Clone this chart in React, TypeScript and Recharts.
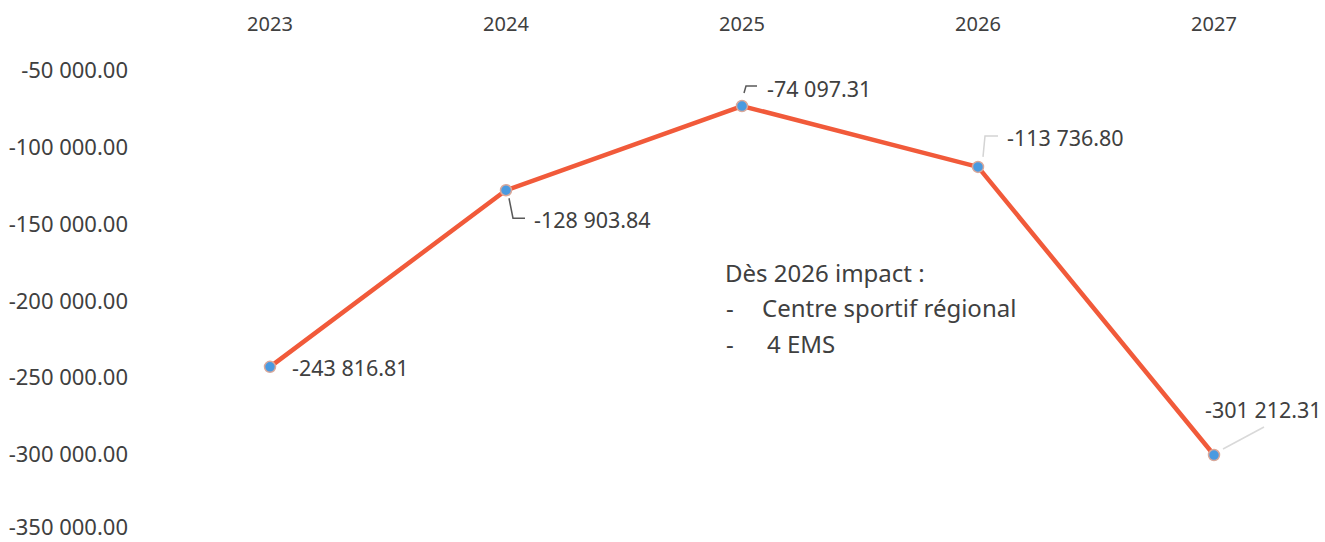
import React from "react";
import { LineChart, Line, XAxis, YAxis, LabelList } from "recharts";

const years = ["2023", "2024", "2025", "2026", "2027"];
const values = [-243816.81, -128903.84, -74097.31, -113736.8, -301212.31];
const yTicks = [-350000, -300000, -250000, -200000, -150000, -100000, -50000];
const noteLines = ["Dès 2026 impact :", "Centre sportif régional", "4 EMS"];

const data = years.map((y, i) => ({ year: y, value: values[i] }));

const FONT = "'Noto Sans', 'Open Sans', sans-serif";
const TEXT = "#404040";

function fmt(v: number): string {
  const neg = v < 0;
  const s = Math.abs(v).toFixed(2);
  const [ip, dp] = s.split(".");
  const grouped = ip.replace(/\B(?=(\d{3})+(?!\d))/g, " ");
  return (neg ? "-" : "") + grouped + "." + dp;
}

// label placement relative to the point: leader polyline and text anchor
const labelLayout = [
  { leader: [] as number[][], tx: 22, ty: 1, color: "#595959" },
  { leader: [[3, 8], [7, 28], [19, 28]], tx: 28, ty: 29, color: "#595959" },
  { leader: [[2, -13], [4, -20], [15, -20]], tx: 25, ty: -18, color: "#595959" },
  { leader: [[5, -10], [7, -31], [20, -31]], tx: 29, ty: -29, color: "#d4d4d4" },
  { leader: [[9, -6], [50, -28]], tx: -9, ty: -46, color: "#d9d9d9" },
];

const DataLabel = (props: any) => {
  const { x, y, value, index } = props;
  const L = labelLayout[index];
  if (!L || x == null || y == null) return null;
  const pts = L.leader.map((p) => `${x + p[0]},${y + p[1]}`).join(" ");
  return (
    <g>
      {L.leader.length > 0 && (
        <polyline points={pts} fill="none" stroke={L.color} strokeWidth={1.5} />
      )}
      <text
        x={x + L.tx}
        y={y + L.ty}
        dominantBaseline="central"
        fontFamily={FONT}
        fontSize={21.5}
        fill={TEXT}
      >
        {fmt(Number(value))}
      </text>
    </g>
  );
};

const YTick = (props: any) => {
  const { x, y, payload } = props;
  const yy = Math.min(y, 526);
  return (
    <text
      x={x}
      y={yy}
      textAnchor="end"
      dominantBaseline="central"
      fontFamily={FONT}
      fontSize={22}
      fill={TEXT}
    >
      {fmt(Number(payload.value))}
    </text>
  );
};

export default function App() {
  return (
    <div style={{ position: "absolute", left: 0, top: 0, width: 1325, height: 542, background: "#fff" }}>
      <LineChart
        width={1325}
        height={542}
        data={data}
        margin={{ top: 19, right: 0, left: 0, bottom: 12 }}
      >
        <XAxis
          dataKey="year"
          orientation="top"
          height={50}
          axisLine={false}
          tickLine={false}
          tickSize={0}
          tickMargin={38}
          padding={{ left: 120, right: 111 }}
          tick={{ fontFamily: FONT, fontSize: 20, fill: TEXT }}
        />
        <YAxis
          width={150}
          domain={[-350000, -50000]}
          ticks={yTicks}
          interval={0}
          axisLine={false}
          tickLine={false}
          tickSize={0}
          tickMargin={22}
          tick={<YTick />}
        />
        <Line
          type="linear"
          dataKey="value"
          stroke="#F15A3A"
          strokeWidth={4.5}
          dot={{ r: 5.5, fill: "#4A9AE0", stroke: "#D9A89A", strokeWidth: 1.5 }}
          activeDot={false}
          isAnimationActive={false}
        >
          <LabelList dataKey="value" content={<DataLabel />} />
        </Line>
      </LineChart>
      <svg
        width={1325}
        height={542}
        style={{ position: "absolute", left: 0, top: 0, pointerEvents: "none" }}
      >
        <g fontFamily={FONT} fontSize={24} fill={TEXT}>
          <text x={725} y={282}>{noteLines[0]}</text>
          <text x={726} y={317}>-</text>
          <text x={762} y={317}>{noteLines[1]}</text>
          <text x={726} y={353}>-</text>
          <text x={767} y={353}>{noteLines[2]}</text>
        </g>
      </svg>
    </div>
  );
}
